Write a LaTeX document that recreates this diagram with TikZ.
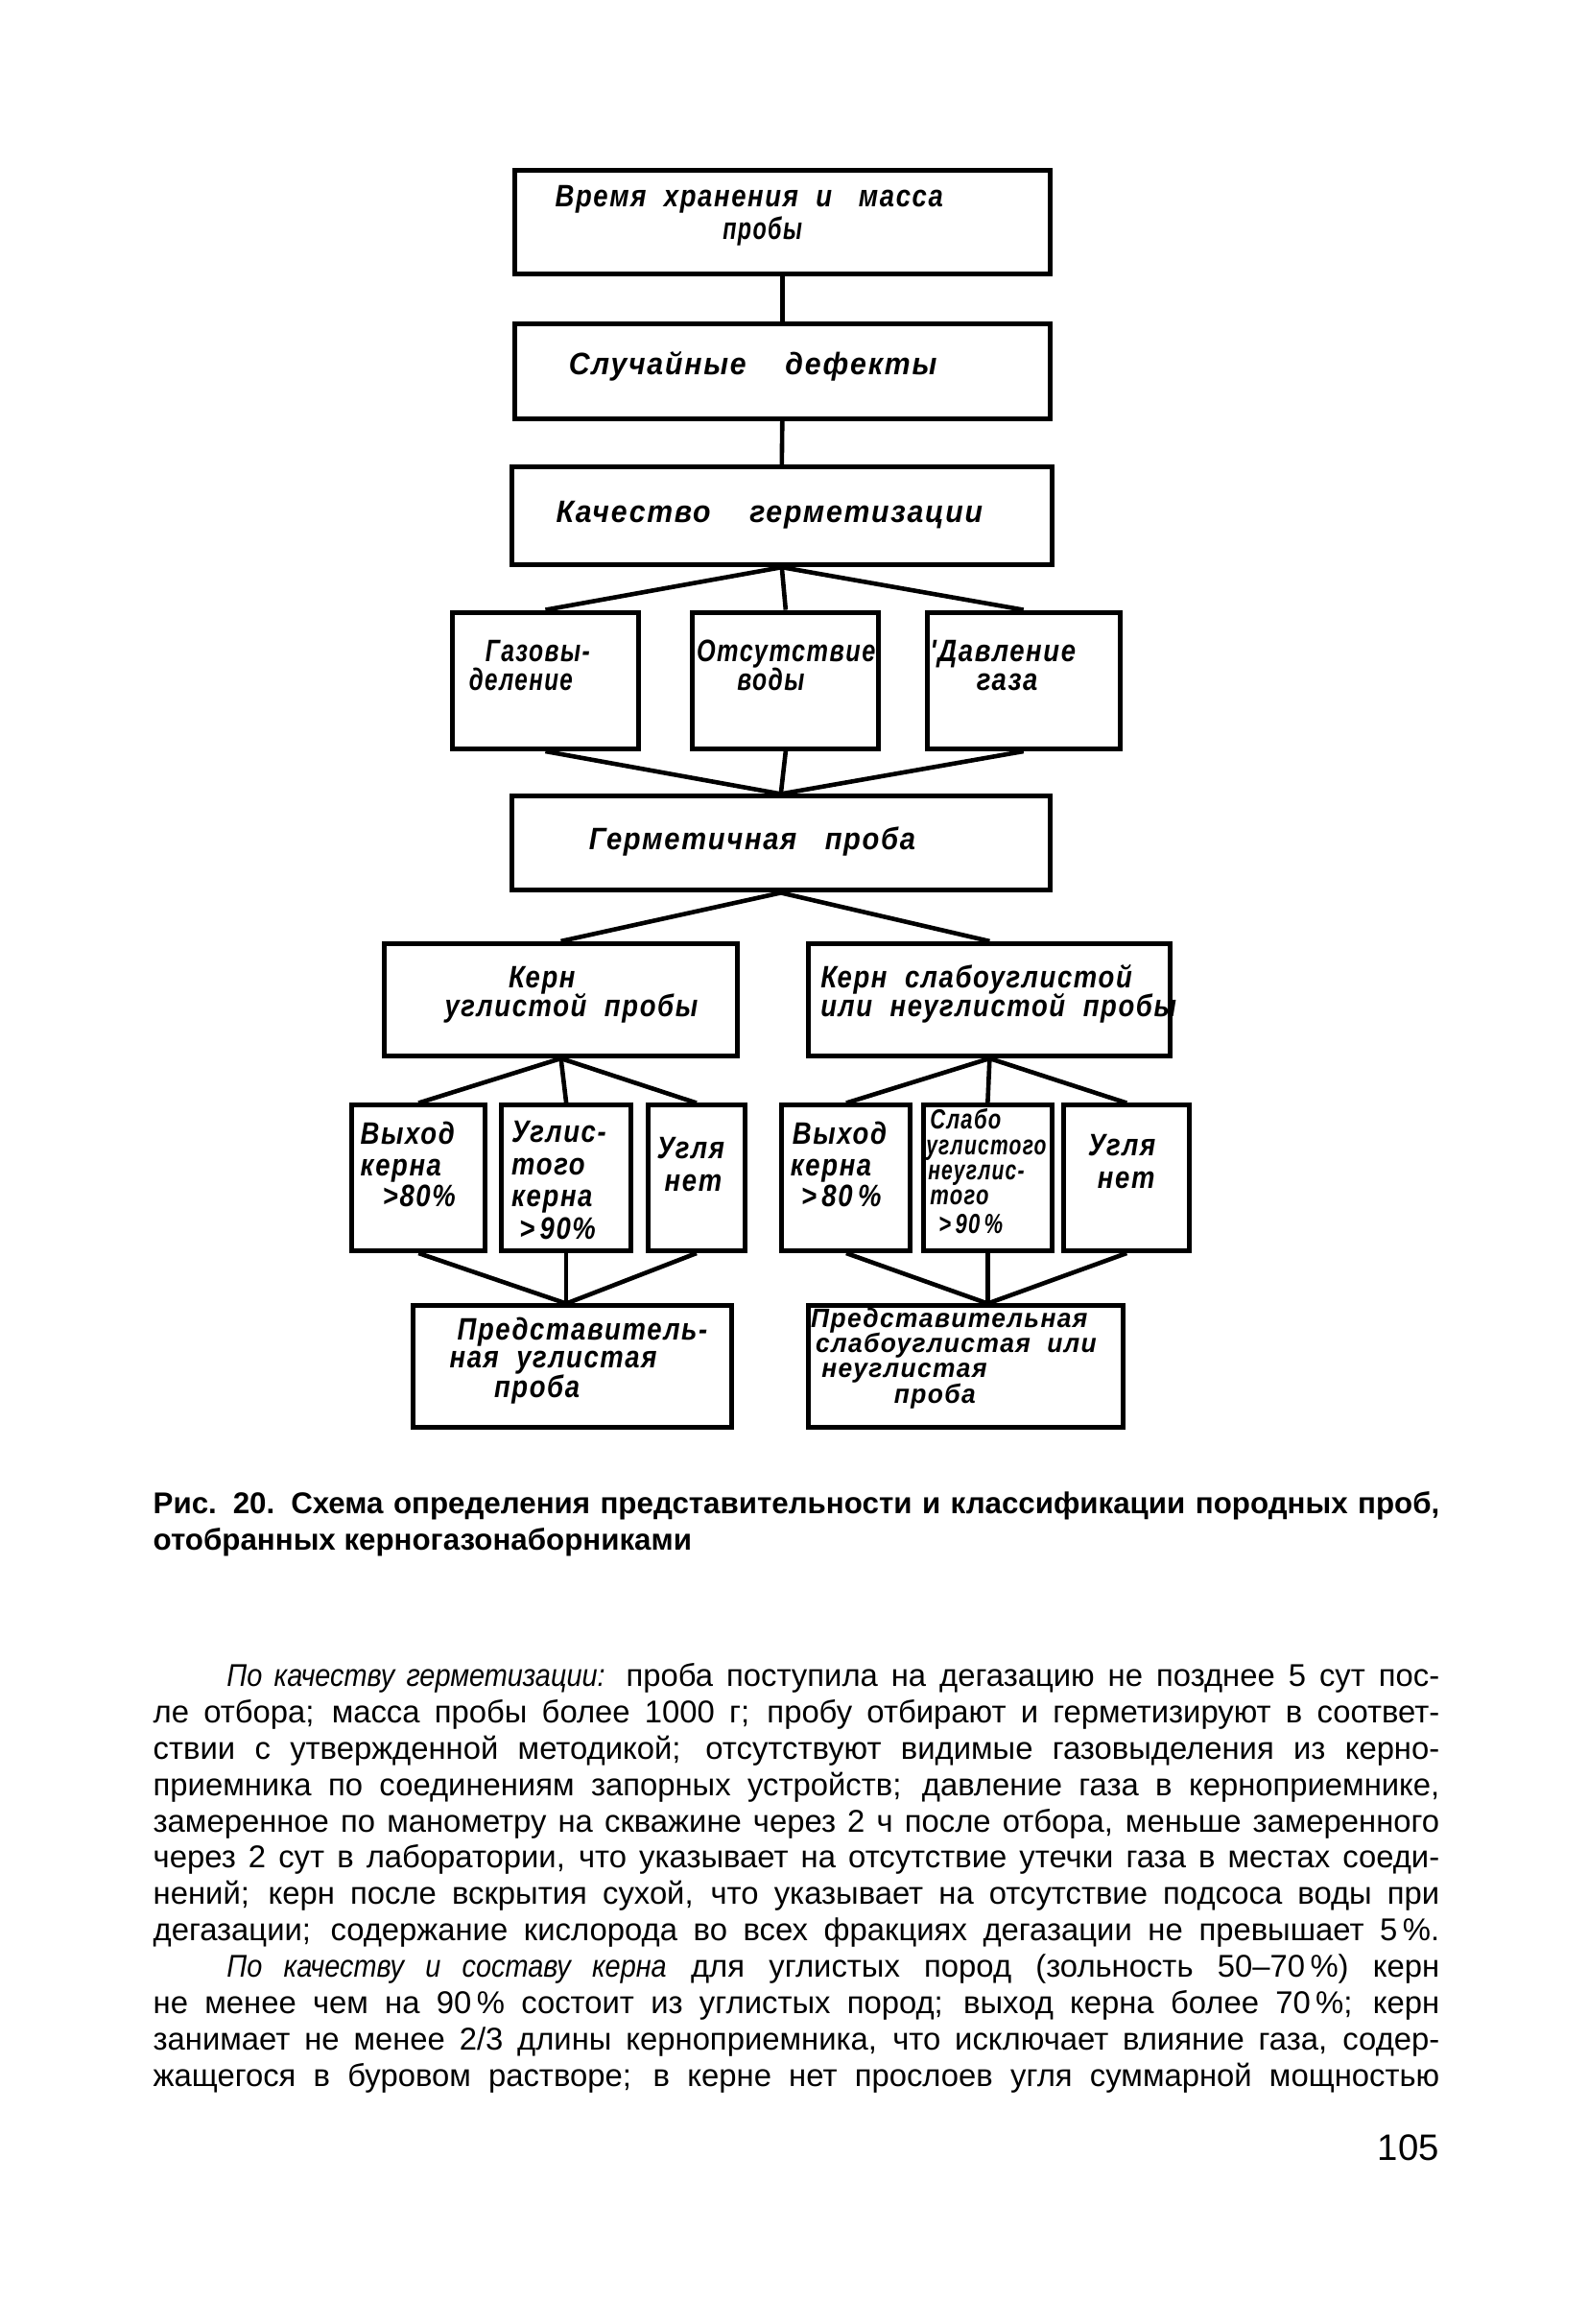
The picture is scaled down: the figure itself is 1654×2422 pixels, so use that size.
\documentclass[tikz,border=0pt]{standalone}
\usepackage{fontspec}
\usepackage{graphicx}
\setmainfont{Liberation Sans}
\newfontfamily\bfnt{Liberation Sans Bold Italic}[FakeStretch=0.85,LetterSpace=5]
\newfontfamily\bfmd{Liberation Sans Bold Italic}[FakeStretch=0.95,LetterSpace=5]
\newfontfamily\itfnt{Liberation Sans Italic}[FakeStretch=0.88]
\begin{document}
\begin{tikzpicture}[x=1pt,y=-1pt]
\tikzset{
  box/.style={draw, line width=5pt, inner sep=0pt},
  conn/.style={line width=4.6pt},
  lbl/.style={inner sep=0pt, anchor=base west, font=\bfnt\fontsize{32}{34}\selectfont},
  sml/.style={inner sep=0pt, anchor=base west, font=\bfnt\fontsize{28.5}{28}\selectfont},
  mdl/.style={inner sep=0pt, anchor=base west, font=\bfmd\fontsize{27.5}{28}\selectfont},
  body/.style={anchor=base west, inner sep=0pt, font=\fontsize{32.5}{37}\selectfont},
  capt/.style={anchor=base west, inner sep=0pt, font=\bfseries\fontsize{31}{37}\selectfont}
}
\fill[white] (0,0) rectangle (1654,2422);
\useasboundingbox (0,0) rectangle (1654,2422);
\begin{scope}[scale=1.0095, transform shape]
% boxes
\node[box, minimum width=553pt, minimum height=107pt] (b1) at (807.5,229.5) {};
\node[box, minimum width=553pt, minimum height=98pt]  (b2) at (807.5,383) {};
\node[box, minimum width=558pt, minimum height=101pt] (b3) at (807,532.5) {};
\node[box, minimum width=192pt, minimum height=141pt] (a1) at (563,702.5) {};
\node[box, minimum width=192pt, minimum height=141pt] (a2) at (811,702.5) {};
\node[box, minimum width=199pt, minimum height=141pt] (a3) at (1056.5,702.5) {};
\node[box, minimum width=556pt, minimum height=97pt]  (c)  at (806,870.5) {};
\node[box, minimum width=364pt, minimum height=116pt] (d1) at (579,1032) {};
\node[box, minimum width=373pt, minimum height=116pt] (d2) at (1021.5,1032) {};
\node[box, minimum width=138pt, minimum height=150pt] (e1) at (432,1216) {};
\node[box, minimum width=133pt, minimum height=150pt] (e2) at (584.5,1216) {};
\node[box, minimum width=100pt, minimum height=150pt] (e3) at (719,1216) {};
\node[box, minimum width=133pt, minimum height=150pt] (e4) at (873.5,1216) {};
\node[box, minimum width=133pt, minimum height=150pt] (e5) at (1019.5,1216) {};
\node[box, minimum width=130pt, minimum height=150pt] (e6) at (1163,1216) {};
\node[box, minimum width=329pt, minimum height=125pt] (f1) at (590.5,1410.5) {};
\node[box, minimum width=324pt, minimum height=125pt] (f2) at (997,1410.5) {};

% connectors
\draw[conn] (b1.south) -- (b2.north);
\draw[conn] (b2.south) -- (b3.north);
\draw[conn] (b3.south) -- (a1.north);
\draw[conn] (b3.south) -- (a2.north);
\draw[conn] (b3.south) -- (a3.north);
\draw[conn] (a1.south) -- (c.north);
\draw[conn] (a2.south) -- (c.north);
\draw[conn] (a3.south) -- (c.north);
\draw[conn] (c.south) -- (d1.north);
\draw[conn] (c.south) -- (d2.north);
\draw[conn] (d1.south) -- (e1.north);
\draw[conn] (d1.south) -- (e2.north);
\draw[conn] (d1.south) -- (e3.north);
\draw[conn] (d2.south) -- (e4.north);
\draw[conn] (d2.south) -- (e5.north);
\draw[conn] (d2.south) -- (e6.north);
\draw[conn] (e1.south) -- (e2.south |- f1.north);
\draw[conn] (e2.south) -- (e2.south |- f1.north);
\draw[conn] (e3.south) -- (e2.south |- f1.north);
\draw[conn] (e4.south) -- (e5.south |- f2.north);
\draw[conn] (e5.south) -- (e5.south |- f2.north);
\draw[conn] (e6.south) -- (e5.south |- f2.north);

% box texts
\node[lbl] (tb1a) at (573,213) {Время\ \ хранения\ \ и\ \ \ масса};
\node[lbl] (tb1b) at (746,247) {\scalebox{0.85}[1]{пробы}};
\node[lbl] (tb2) at (587,387) {\scalebox{1.1}[1]{Случайные\ \ \ \ дефекты}};
\node[lbl] (tb3) at (574,539) {\scalebox{1.1}[1]{Качество\ \ \ \ герметизации}};
\node[lbl] (tc)  at (608,877) {\scalebox{1.06}[1]{Герметичная\ \ \ проба}};
\node[lbl] (ta1a) at (501,683) {\scalebox{0.9}[1]{Газовы-}};
\node[lbl] (ta1b) at (484,713) {\scalebox{0.88}[1]{деление}};
\node[lbl] (ta2a) at (719,683) {\scalebox{0.92}[1]{Отсутствие}};
\node[lbl] (ta2b) at (761,713) {\scalebox{0.9}[1]{воды}};
\node[lbl] (ta3a) at (960,683) {'Давление};
\node[lbl] (ta3b) at (1008,713) {газа};
\node[lbl] (td1a) at (525,1020) {Керн};
\node[lbl] (td1b) at (459,1050) {углистой\ \ пробы};
\node[lbl] (td2a) at (847,1020) {Керн\ \ слабоуглистой};
\node[lbl] (td2b) at (847,1050) {или\ \ неуглистой\ \ пробы};
\node[lbl] (te1a) at (372,1181) {Выход};
\node[lbl] (te1b) at (372,1214) {керна};
\node[lbl] (te1c) at (395,1246) {>80\%};
\node[lbl] (te2a) at (528,1179) {Углис-};
\node[lbl] (te2b) at (528,1213) {того};
\node[lbl] (te2c) at (528,1246) {керна};
\node[lbl] (te2d) at (536,1279) {>\,90\%};
\node[lbl] (te3a) at (678,1196) {Угля};
\node[lbl] (te3b) at (686,1230) {нет};
\node[lbl] (te4a) at (818,1181) {Выход};
\node[lbl] (te4b) at (816,1214) {керна};
\node[lbl] (te4c) at (827,1246) {>\,80\,\%};
\node[sml] (te5a) at (960,1165) {\scalebox{0.9}[1]{Слабо}};
\node[sml] (te5b) at (956,1192) {\scalebox{0.86}[1]{углистого}};
\node[sml] (te5c) at (958,1218) {\scalebox{0.86}[1]{неуглис-}};
\node[sml] (te5d) at (960,1244) {\scalebox{0.9}[1]{того}};
\node[sml] (te5e) at (969,1273) {\scalebox{0.9}[1]{>\,90\,\%}};
\node[lbl] (te6a) at (1123,1193) {Угля};
\node[lbl] (te6b) at (1133,1227) {нет};
\node[lbl] (tf1a) at (472,1383) {Представитель-};
\node[lbl] (tf1b) at (464,1412) {ная\ \ углистая};
\node[lbl] (tf1c) at (510,1443) {проба};
\node[mdl] (tf2a) at (837,1370) {Представительная};
\node[mdl] (tf2b) at (842,1396) {слабоуглистая\ \ или};
\node[mdl] (tf2c) at (848,1422) {неуглистая};
\node[mdl] (tf2d) at (923,1449) {проба};

% caption
\node[capt] (cap1) at (158,1563) {\makebox[1328pt][s]{Рис. 20. Схема определения представительности и классификации породных проб,}};
\node[capt] (cap2) at (158,1600) {отобранных керногазонаборниками};

% body text
\node[body] (l1)  at (234,1741) {\makebox[1252pt][s]{{\itfnt По качеству герметизации:} проба поступила на дегазацию не позднее 5 сут пос-}};
\node[body] (l2)  at (158,1778.5) {\makebox[1328pt][s]{ле отбора; масса пробы более 1000 г; пробу отбирают и герметизируют в соответ-}};
\node[body] (l3)  at (158,1816) {\makebox[1328pt][s]{ствии с утвержденной методикой; отсутствуют видимые газовыделения из керно-}};
\node[body] (l4)  at (158,1853.5) {\makebox[1328pt][s]{приемника по соединениям запорных устройств; давление газа в керноприемнике,}};
\node[body] (l5)  at (158,1891) {\makebox[1328pt][s]{замеренное по манометру на скважине через 2 ч после отбора, меньше замеренного}};
\node[body] (l6)  at (158,1928.5) {\makebox[1328pt][s]{через 2 сут в лаборатории, что указывает на отсутствие утечки газа в местах соеди-}};
\node[body] (l7)  at (158,1966) {\makebox[1328pt][s]{нений; керн после вскрытия сухой, что указывает на отсутствие подсоса воды при}};
\node[body] (l8)  at (158,2003.5) {\makebox[1328pt][s]{дегазации; содержание кислорода во всех фракциях дегазации не превышает 5\,\%.}};
\node[body] (l9)  at (234,2041) {\makebox[1252pt][s]{{\itfnt По качеству и составу керна} для углистых пород (зольность 50–70\,\%) керн}};
\node[body] (l10) at (158,2078.5) {\makebox[1328pt][s]{не менее чем на 90\,\% состоит из углистых пород; выход керна более 70\,\%; керн}};
\node[body] (l11) at (158,2116) {\makebox[1328pt][s]{занимает не менее 2/3 длины керноприемника, что исключает влияние газа, содер-}};
\node[body] (l12) at (158,2153.5) {\makebox[1328pt][s]{жащегося в буровом растворе; в керне нет прослоев угля суммарной мощностью}};

% page number
\node[anchor=base east, inner sep=0pt, font=\fontsize{38}{40}\selectfont] (pg) at (1486,2230) {105};
\end{scope}
\end{tikzpicture}
\end{document}
